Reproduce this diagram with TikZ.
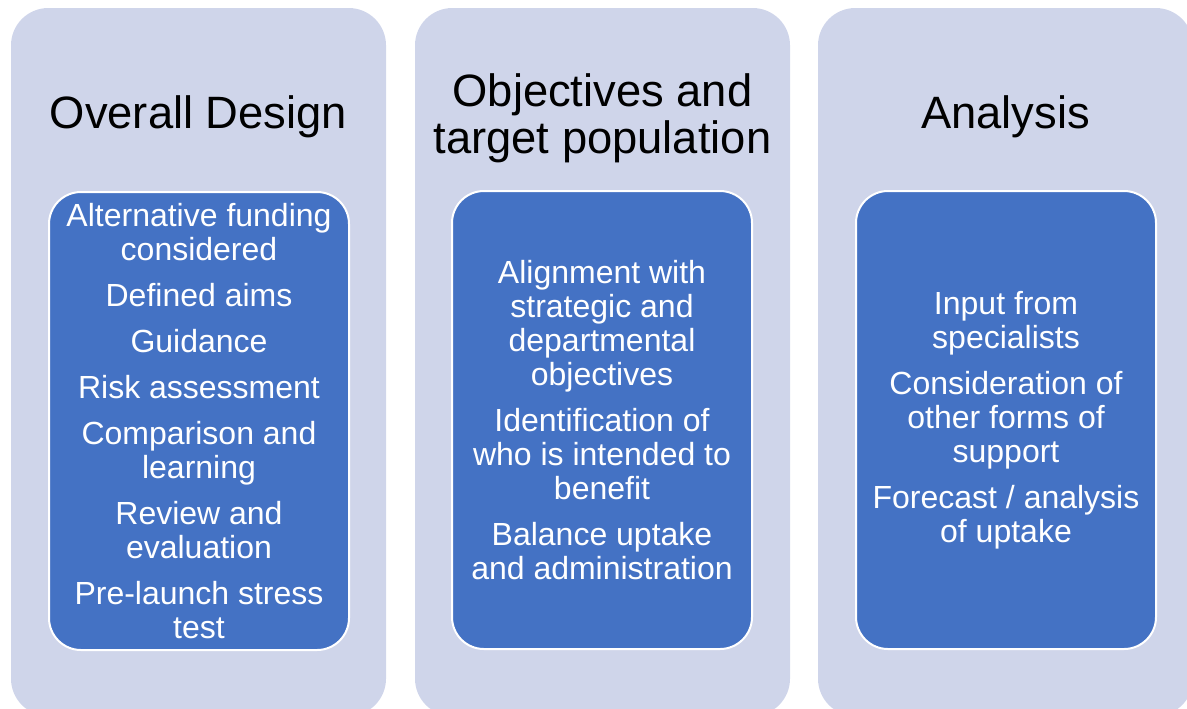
\documentclass[tikz,border=0pt]{standalone}
\usepackage{fontspec}
\setmainfont{Liberation Sans}
\usetikzlibrary{positioning,calc}

\definecolor{panelbg}{HTML}{CFD5EA}
\definecolor{itemblue}{HTML}{4472C4}

\begin{document}
\begin{tikzpicture}[x=0.75pt,y=-0.75pt]
    \tikzset{panel/.style = {fill=panelbg, rounded corners=28pt,
        minimum width=281.25pt, minimum height=531pt, inner sep=0pt},
      PanelTitle/.style = {align=center, font=\fontsize{34}{35}\selectfont},
      ItemBox/.style = {draw=white, line width=1.5pt,
        fill  = itemblue,
        text  = white,
        rounded corners=24pt, minimum width=225pt, minimum height=343.5pt,
        align=center, font=\fontsize{24}{25.5}\selectfont}}
    \useasboundingbox (0,0) rectangle (1187,708);
    \clip (0,0) rectangle (1187,708);
    % the three panels, running off the bottom edge
    \node[panel] (design)   at (198.5,362) {};
    \node[panel] (objective) at (602.5,362) {};
    \node[panel] (analysis) at (1005.5,362) {};
    \node[PanelTitle] (designT)   at (198.5,117) {Overall Design};
    \node[PanelTitle] (objectiveT) at (602.5,118) {Objectives and\\target population};
    \node[PanelTitle] (analysisT) at (1005.5,117) {Analysis};
    % blue boxes with the points of each panel
    \node[ItemBox] (designI) at (199,421) {Alternative funding\\considered\\[9pt]
      Defined aims\\[9pt]Guidance\\[9pt]Risk assessment\\[9pt]
      Comparison and\\learning\\[9pt]Review and\\evaluation\\[9pt]
      Pre-launch stress\\test};
    \node[ItemBox] (objectiveI) at (602,420) {Alignment with\\strategic and\\departmental\\objectives\\[9pt]
      Identification of\\who is intended to\\benefit\\[9pt]
      Balance uptake\\and administration};
    \node[ItemBox] (analysisI) at (1006,420) {Input from\\specialists\\[9pt]
      Consideration of\\other forms of\\support\\[9pt]
      Forecast / analysis\\of uptake};
  \end{tikzpicture}
\end{document}
